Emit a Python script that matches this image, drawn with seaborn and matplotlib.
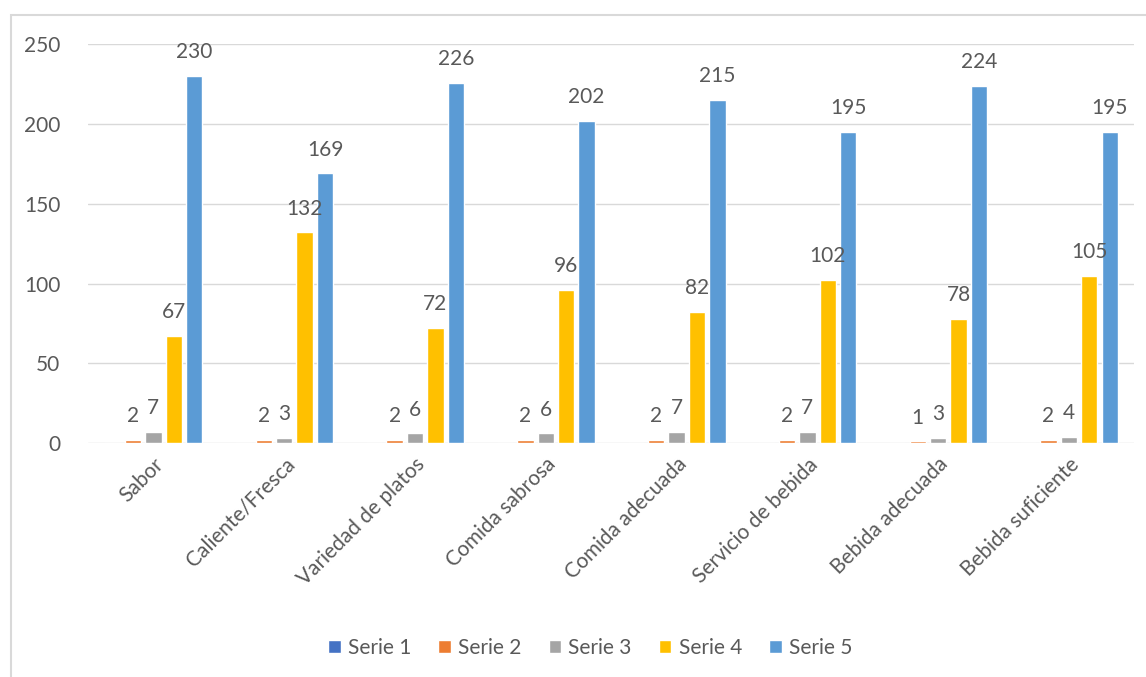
import numpy as np
import matplotlib.pyplot as plt
import seaborn as sns
import pandas as pd

# 数据
categorias = ["Sabor", "Caliente/Fresca", "Variedad de platos", "Comida sabrosa",
              "Comida adecuada", "Servicio de bebida", "Bebida adecuada", "Bebida suficiente"]
series = ["Serie 1", "Serie 2", "Serie 3", "Serie 4", "Serie 5"]
serie1 = [0, 0, 0, 0, 0, 0, 0, 0]
serie2 = [2, 2, 2, 2, 2, 2, 1, 2]
serie3 = [7, 3, 6, 6, 7, 7, 3, 4]
serie4 = [67, 132, 72, 96, 82, 102, 78, 105]
serie5 = [230, 169, 226, 202, 215, 195, 224, 195]
colores = ["#4472C4", "#ED7D31", "#A5A5A5", "#FFC000", "#5B9BD5"]

valores = [serie1, serie2, serie3, serie4, serie5]
filas = []
for s, vals in zip(series, valores):
    for c, v in zip(categorias, vals):
        filas.append({"categoria": c, "serie": s, "valor": v})
df = pd.DataFrame(filas)

sns.set_style("white")
plt.rcParams["font.family"] = ["Lato", "DejaVu Sans"]
texto = "#595959"

fig = plt.figure(figsize=(11.46, 6.77), dpi=100)
ax = fig.add_axes([0.0768, 0.3456, 0.913, 0.589])

sns.barplot(data=df, x="categoria", y="valor", hue="serie", palette=colores,
            hue_order=series, order=categorias, width=0.78, saturation=1,
            ax=ax, legend=True)

# 柱子稍窄一些，留出间隙
for cont in ax.containers:
    for bar in cont:
        w = bar.get_width()
        bar.set_x(bar.get_x() + w * 0.1)
        bar.set_width(w * 0.8)

# 数据标签（值为0的不显示）
for cont in ax.containers:
    labels = [f"{int(b.get_height())}" if b.get_height() > 0 else "" for b in cont]
    ax.bar_label(cont, labels=labels, padding=10, fontsize=15, color=texto)

ax.set_ylim(0, 250)
ax.set_yticks(np.arange(0, 251, 50))
ax.set_xlim(-0.5, len(categorias) - 0.5)
ax.grid(axis="y", color="#D9D9D9", linewidth=1)
ax.set_axisbelow(True)
for sp in ax.spines.values():
    sp.set_visible(False)
ax.tick_params(axis="both", length=0, labelsize=15, colors=texto)
ax.tick_params(axis="y", pad=20)
ax.set_xlabel("")
ax.set_ylabel("")
plt.setp(ax.get_xticklabels(), rotation=45, ha="right", rotation_mode="anchor")
ax.tick_params(axis="x", pad=8)

leg = ax.legend(loc="center", ncol=5, frameon=False, fontsize=15,
                handlelength=0.6, handleheight=0.6, columnspacing=1.3,
                handletextpad=0.35, labelcolor=texto)
leg.set_bbox_to_anchor((0.515, 1 - 648 / 677), transform=fig.transFigure)

# 图表外框
fig.add_artist(plt.Rectangle((11 / 1146, -0.01), 1.1, 1 - 15 / 677 + 0.01,
                             transform=fig.transFigure, fill=False,
                             edgecolor="#D9D9D9", linewidth=1.5))

plt.savefig("out.png", dpi=100)
